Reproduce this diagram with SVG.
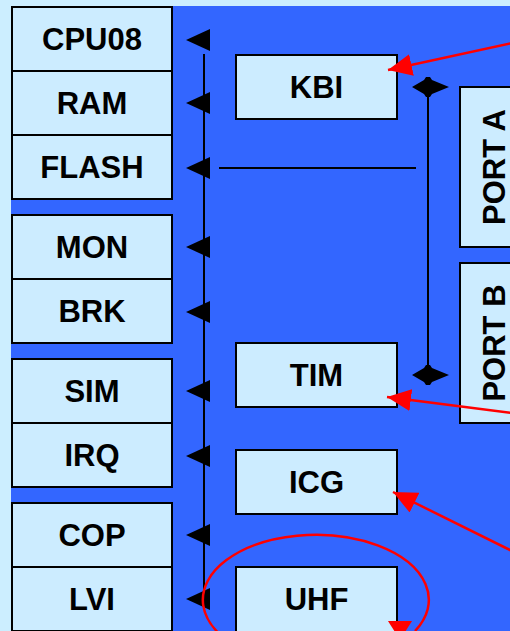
<svg xmlns="http://www.w3.org/2000/svg" xmlns:xlink="http://www.w3.org/1999/xlink" width="510" height="631" viewBox="0 0 510 631">
<style>
.box{fill:#CCECFF;stroke:#000;stroke-width:2}
.lbl{font-family:"Liberation Sans",Arial,sans-serif;font-weight:bold;font-size:31px;fill:#000;text-anchor:middle}
.bus{stroke:#000;stroke-width:2;fill:none}
.red{stroke:#FF0000;stroke-width:2.5;fill:none}
</style>
<defs>
<marker id="rh" markerUnits="userSpaceOnUse" markerWidth="26" markerHeight="22" refX="24" refY="11" orient="auto">
<path d="M0,0 L24,11 L0,22 z" fill="#FF0000"/>
</marker>
<polygon id="la" points="186,0 210,-11 210,11" fill="#000"/>
<polygon id="dbl" points="412,0 424,-7 426,-10 430,-10 432,-7 449,0 432,7 430,10 426,10 424,7" fill="#000"/>
</defs>
<rect x="0" y="0" width="510" height="631" fill="#CCEEFF"/>
<rect x="11" y="6" width="499" height="625" fill="#3366FF"/>

<g id="cpu08"><rect class="box" x="12" y="7" width="160" height="64"/><text class="lbl" x="92" y="50">CPU08</text></g>
<g id="ram"><rect class="box" x="12" y="71" width="160" height="64"/><text class="lbl" x="92" y="114">RAM</text></g>
<g id="flash"><rect class="box" x="12" y="135" width="160" height="64"/><text class="lbl" x="92" y="178">FLASH</text></g>
<g id="mon"><rect class="box" x="12" y="215" width="160" height="64"/><text class="lbl" x="92" y="258">MON</text></g>
<g id="brk"><rect class="box" x="12" y="279" width="160" height="64"/><text class="lbl" x="92" y="322">BRK</text></g>
<g id="sim"><rect class="box" x="12" y="359" width="160" height="64"/><text class="lbl" x="92" y="402">SIM</text></g>
<g id="irq"><rect class="box" x="12" y="423" width="160" height="64"/><text class="lbl" x="92" y="466">IRQ</text></g>
<g id="cop"><rect class="box" x="12" y="503" width="160" height="64"/><text class="lbl" x="92" y="546">COP</text></g>
<g id="lvi"><rect class="box" x="12" y="567" width="160" height="64"/><text class="lbl" x="92" y="610">LVI</text></g>

<g id="kbi"><rect class="box" x="236" y="55" width="161" height="64"/><text class="lbl" x="316.5" y="98">KBI</text></g>
<g id="tim"><rect class="box" x="236" y="343" width="161" height="64"/><text class="lbl" x="316.5" y="386">TIM</text></g>
<g id="icg"><rect class="box" x="236" y="450" width="161" height="64"/><text class="lbl" x="316.5" y="493">ICG</text></g>
<g id="uhf"><rect class="box" x="236" y="567" width="161" height="70"/><text class="lbl" x="316.5" y="610">UHF</text></g>

<g id="porta"><rect class="box" x="460" y="87" width="60" height="160"/><text class="lbl" transform="translate(505,167) rotate(-90)" x="0" y="0">PORT A</text></g>
<g id="portb"><rect class="box" x="460" y="263" width="60" height="160"/><text class="lbl" transform="translate(505,343) rotate(-90)" x="0" y="0">PORT B</text></g>

<g id="connectors">
<line class="bus" x1="204" y1="54" x2="204" y2="605"/>
<line class="bus" x1="219" y1="168" x2="416" y2="168"/>
<use xlink:href="#la" y="40"/>
<use xlink:href="#la" y="103"/>
<use xlink:href="#la" y="168"/>
<use xlink:href="#la" y="247"/>
<use xlink:href="#la" y="312"/>
<use xlink:href="#la" y="391"/>
<use xlink:href="#la" y="456"/>
<use xlink:href="#la" y="535"/>
<use xlink:href="#la" y="599"/>
<line class="bus" x1="428" y1="96" x2="428" y2="366"/>
<use xlink:href="#dbl" y="87"/>
<use xlink:href="#dbl" y="375"/>
<line class="red" x1="512" y1="43" x2="388" y2="70" marker-end="url(#rh)"/>
<line class="red" x1="512" y1="413" x2="387" y2="397" marker-end="url(#rh)"/>
<line class="red" x1="512" y1="551" x2="393" y2="492" marker-end="url(#rh)"/>
<path class="red" d="M 240,648 A 113 65 0 1 1 415,631"/>
<polygon points="388,621 412,621 400,640" fill="#FF0000"/>
</g>
</svg>
